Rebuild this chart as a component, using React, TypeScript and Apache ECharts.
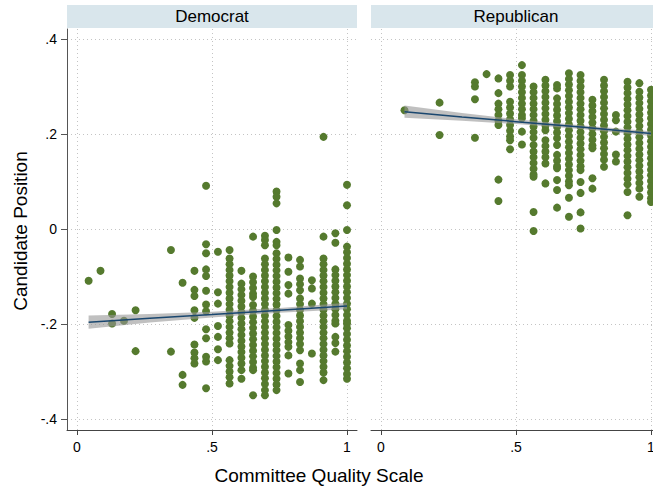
import React, { useEffect, useRef } from "react";
import * as echarts from "echarts";

// ---- data ----
const demX = [0.043, 0.087, 0.13, 0.174, 0.217, 0.348, 0.391, 0.435, 0.478, 0.522, 0.565, 0.609, 0.652, 0.696, 0.739, 0.783, 0.826, 0.87, 0.913, 0.957, 1.0];
const demY: number[][] = [
  [-0.109],
  [-0.088],
  [-0.179, -0.199],
  [-0.193],
  [-0.171, -0.257],
  [-0.044, -0.258],
  [-0.113, -0.307, -0.328],
  [-0.088, -0.128, -0.141, -0.171, -0.187, -0.243, -0.26, -0.272, -0.283],
  [0.091, -0.032, -0.051, -0.085, -0.099, -0.13, -0.159, -0.173, -0.211, -0.23, -0.269, -0.279, -0.335],
  [-0.048, -0.133, -0.157, -0.204, -0.227, -0.253, -0.276],
  [-0.044, -0.062, -0.074, -0.086, -0.098, -0.11, -0.122, -0.134, -0.146, -0.158, -0.17, -0.182, -0.194, -0.206, -0.218, -0.23, -0.241, -0.276, -0.288, -0.3, -0.312, -0.325],
  [-0.088, -0.115, -0.127, -0.139, -0.151, -0.163, -0.175, -0.187, -0.199, -0.211, -0.223, -0.235, -0.247, -0.259, -0.271, -0.283, -0.297, -0.315],
  [-0.016, -0.1, -0.112, -0.124, -0.136, -0.143, -0.16, -0.172, -0.184, -0.196, -0.208, -0.22, -0.232, -0.244, -0.256, -0.268, -0.28, -0.292, -0.297, -0.35],
  [-0.014, -0.023, -0.034, -0.062, -0.074, -0.086, -0.098, -0.11, -0.122, -0.134, -0.146, -0.158, -0.17, -0.182, -0.194, -0.206, -0.218, -0.23, -0.242, -0.254, -0.266, -0.278, -0.29, -0.302, -0.314, -0.326, -0.339, -0.35],
  [0.079, 0.068, 0.054, -0.002, -0.027, -0.034, -0.051, -0.063, -0.075, -0.087, -0.099, -0.111, -0.123, -0.135, -0.147, -0.159, -0.171, -0.183, -0.195, -0.207, -0.219, -0.231, -0.243, -0.255, -0.267, -0.279, -0.291, -0.303, -0.315, -0.327, -0.339],
  [-0.06, -0.09, -0.118, -0.136, -0.202, -0.214, -0.226, -0.238, -0.248, -0.266, -0.304],
  [-0.065, -0.079, -0.104, -0.116, -0.129, -0.146, -0.158, -0.17, -0.182, -0.194, -0.206, -0.218, -0.23, -0.242, -0.255, -0.283, -0.297, -0.322],
  [-0.108, -0.125, -0.157, -0.262],
  [0.194, -0.016, -0.062, -0.074, -0.086, -0.098, -0.11, -0.122, -0.134, -0.146, -0.158, -0.17, -0.182, -0.194, -0.206, -0.218, -0.23, -0.242, -0.254, -0.266, -0.278, -0.29, -0.302, -0.318],
  [-0.009, -0.029, -0.085, -0.097, -0.109, -0.121, -0.133, -0.145, -0.157, -0.169, -0.181, -0.193, -0.199, -0.227, -0.24, -0.258],
  [0.093, 0.05, -0.002, -0.037, -0.049, -0.061, -0.073, -0.085, -0.097, -0.109, -0.121, -0.133, -0.145, -0.157, -0.169, -0.181, -0.193, -0.199, -0.209, -0.221, -0.233, -0.245, -0.257, -0.269, -0.281, -0.293, -0.305, -0.315],
];

const repX = [0.087, 0.217, 0.348, 0.391, 0.435, 0.478, 0.522, 0.565, 0.609, 0.652, 0.696, 0.739, 0.783, 0.826, 0.87, 0.913, 0.957, 1.0];
const repY: number[][] = [
  [0.25],
  [0.266, 0.198],
  [0.309, 0.3, 0.273, 0.192],
  [0.326],
  [0.317, 0.286, 0.264, 0.252, 0.24, 0.228, 0.219, 0.104, 0.059],
  [0.324, 0.312, 0.3, 0.268, 0.256, 0.243, 0.231, 0.219, 0.207, 0.195, 0.187, 0.168],
  [0.345, 0.324, 0.312, 0.3, 0.288, 0.276, 0.264, 0.252, 0.24, 0.233, 0.205, 0.178],
  [0.3, 0.288, 0.276, 0.264, 0.252, 0.24, 0.228, 0.216, 0.204, 0.192, 0.177, 0.163, 0.151, 0.139, 0.127, 0.115, 0.11, 0.036, -0.004],
  [0.314, 0.302, 0.29, 0.278, 0.266, 0.254, 0.242, 0.23, 0.218, 0.208, 0.187, 0.175, 0.163, 0.151, 0.138, 0.096],
  [0.303, 0.296, 0.275, 0.263, 0.251, 0.239, 0.227, 0.215, 0.203, 0.191, 0.177, 0.156, 0.144, 0.132, 0.128, 0.103, 0.082, 0.045],
  [0.328, 0.316, 0.304, 0.292, 0.28, 0.268, 0.256, 0.244, 0.232, 0.22, 0.208, 0.196, 0.184, 0.172, 0.16, 0.148, 0.136, 0.124, 0.112, 0.1, 0.092, 0.066, 0.026],
  [0.324, 0.312, 0.3, 0.288, 0.276, 0.264, 0.252, 0.24, 0.228, 0.216, 0.204, 0.192, 0.18, 0.168, 0.156, 0.144, 0.132, 0.124, 0.099, 0.076, 0.035, 0.001],
  [0.272, 0.26, 0.248, 0.236, 0.224, 0.212, 0.2, 0.188, 0.176, 0.17, 0.107, 0.085],
  [0.314, 0.302, 0.29, 0.278, 0.266, 0.254, 0.242, 0.23, 0.218, 0.206, 0.194, 0.182, 0.17, 0.158, 0.146, 0.131],
  [0.24, 0.229, 0.205, 0.157, 0.142],
  [0.31, 0.298, 0.286, 0.274, 0.262, 0.25, 0.238, 0.226, 0.214, 0.202, 0.19, 0.178, 0.166, 0.154, 0.142, 0.13, 0.118, 0.106, 0.094, 0.078, 0.029],
  [0.307, 0.289, 0.277, 0.265, 0.253, 0.241, 0.229, 0.217, 0.205, 0.193, 0.181, 0.169, 0.157, 0.145, 0.133, 0.121, 0.109, 0.097, 0.085, 0.068],
  [0.293, 0.281, 0.269, 0.257, 0.245, 0.233, 0.221, 0.209, 0.197, 0.185, 0.173, 0.161, 0.149, 0.137, 0.125, 0.113, 0.101, 0.089, 0.077, 0.065, 0.057],
];

// fitted line and confidence band
const demFitX = [0.043, 0.27, 0.5, 0.75, 1.0];
const demFit = [-0.196, -0.188, -0.18, -0.171, -0.162];
const demLo = [-0.21, -0.197, -0.186, -0.176, -0.169];
const demHi = [-0.182, -0.179, -0.174, -0.166, -0.155];

const repFitX = [0.087, 0.3, 0.5, 0.75, 1.0];
const repFit = [0.247, 0.236, 0.226, 0.214, 0.201];
const repLo = [0.234, 0.228, 0.221, 0.21, 0.196];
const repHi = [0.26, 0.244, 0.231, 0.218, 0.206];

const panelNames = ["Democrat", "Republican"];
const xTicks = [0, 0.5, 1];
const yTicks = [-0.4, -0.2, 0, 0.2, 0.4];
const xTitle = "Committee Quality Scale";
const yTitle = "Candidate Position";

const FONT = "'Liberation Sans', Arial, sans-serif";
const GREEN = "#557a2e";
const NAVY = "#1a476f";

const fmt = (v: number) => {
  if (v === 0) return "0";
  const s = String(Math.abs(Number(v.toFixed(2)))).replace(/^0/, "");
  return (v < 0 ? "-" : "") + s;
};

const pairs = (xs: number[], ys: number[][]) =>
  xs.flatMap((x, i) => ys[i].map((y) => [x, y]));

export default function App() {
  const ref = useRef<HTMLDivElement>(null);
  useEffect(() => {
    if (!ref.current) return;
    const chart = echarts.init(ref.current, undefined, { renderer: "svg" });

    const gridLeft = [67, 371];
    const grids = gridLeft.map((l) => ({ left: l, top: 29, width: 290, height: 401 }));

    const splitStyle = { show: true, lineStyle: { color: "#c4c4c4", width: 1, type: [1, 3] as any } };

    const xAxes = [0, 1].map((i) => ({
      type: "value",
      gridIndex: i,
      min: -0.037,
      max: 1.037,
      axisLine: { show: true, onZero: false, lineStyle: { color: "#444", width: 1 } },
      axisTick: { show: true, length: 5, customValues: xTicks, lineStyle: { color: "#444" } },
      axisLabel: { show: true, customValues: xTicks, formatter: fmt, fontSize: 14, fontFamily: FONT, color: "#000", margin: 10 },
      splitLine: splitStyle,
    }));

    const yAxes = [0, 1].map((i) => ({
      type: "value",
      gridIndex: i,
      min: -0.423,
      max: 0.421,
      axisLine: { show: i === 0, onZero: false, lineStyle: { color: "#555", width: 1 } },
      axisTick: { show: i === 0, length: 6, customValues: yTicks, lineStyle: { color: "#555" } },
      axisLabel: { show: i === 0, customValues: yTicks, formatter: fmt, fontSize: 14, fontFamily: FONT, color: "#000", margin: 10 },
      splitLine: splitStyle,
    }));

    const band = (idx: number, xs: number[], lo: number[], hi: number[]) => ({
      type: "custom",
      xAxisIndex: idx,
      yAxisIndex: idx,
      z: 3,
      data: [[xs[0], lo[0]]],
      renderItem: (_p: any, api: any) => {
        const pts = xs.map((x, k) => api.coord([x, hi[k]]));
        const ptsLo = xs.map((x, k) => api.coord([x, lo[k]])).reverse();
        return {
          type: "polygon",
          shape: { points: pts.concat(ptsLo) },
          style: { fill: "rgba(150,150,150,0.6)" },
        };
      },
    });

    const scatter = (idx: number, xs: number[], ys: number[][]) => ({
      type: "scatter",
      xAxisIndex: idx,
      yAxisIndex: idx,
      symbol: "circle",
      symbolSize: 8,
      z: 2,
      itemStyle: { color: GREEN, opacity: 1 },
      data: pairs(xs, ys),
    });

    const fitLine = (idx: number, xs: number[], ys: number[]) => ({
      type: "line",
      xAxisIndex: idx,
      yAxisIndex: idx,
      showSymbol: false,
      symbol: "none",
      z: 4,
      lineStyle: { color: NAVY, width: 1.5 },
      data: xs.map((x, k) => [x, ys[k]]),
    });

    const headers = panelNames.flatMap((name, i) => [
      {
        type: "rect",
        shape: { x: gridLeft[i], y: 5, width: 290, height: 23 },
        style: { fill: "#d9e6ec" },
        z: 0,
      },
      {
        type: "text",
        x: gridLeft[i] + 145,
        y: 16.5,
        style: { text: name, fontSize: 17, fontFamily: FONT, fill: "#000", textAlign: "center", textVerticalAlign: "middle" },
        z: 1,
      },
    ]);

    chart.setOption({
      animation: false,
      backgroundColor: "#fff",
      grid: grids,
      xAxis: xAxes,
      yAxis: yAxes,
      series: [
        scatter(0, demX, demY),
        scatter(1, repX, repY),
        band(0, demFitX, demLo, demHi),
        band(1, repFitX, repLo, repHi),
        fitLine(0, demFitX, demFit),
        fitLine(1, repFitX, repFit),
      ],
      graphic: [
        ...headers,
        {
          type: "text",
          x: 319,
          y: 475,
          style: { text: xTitle, fontSize: 19, fontFamily: FONT, fill: "#000", textAlign: "center", textVerticalAlign: "middle" },
        },
        {
          type: "text",
          x: 20,
          y: 231,
          rotation: Math.PI / 2,
          style: { text: yTitle, fontSize: 19, fontFamily: FONT, fill: "#000", textAlign: "center", textVerticalAlign: "middle" },
        },
      ],
    });
    return () => chart.dispose();
  }, []);
  return (
    <div style={{ position: "absolute", left: 0, top: 0, width: 653, height: 491, overflow: "hidden" }}>
      <div ref={ref} style={{ position: "absolute", left: 0, top: 0, width: 672, height: 491 }} />
    </div>
  );
}
